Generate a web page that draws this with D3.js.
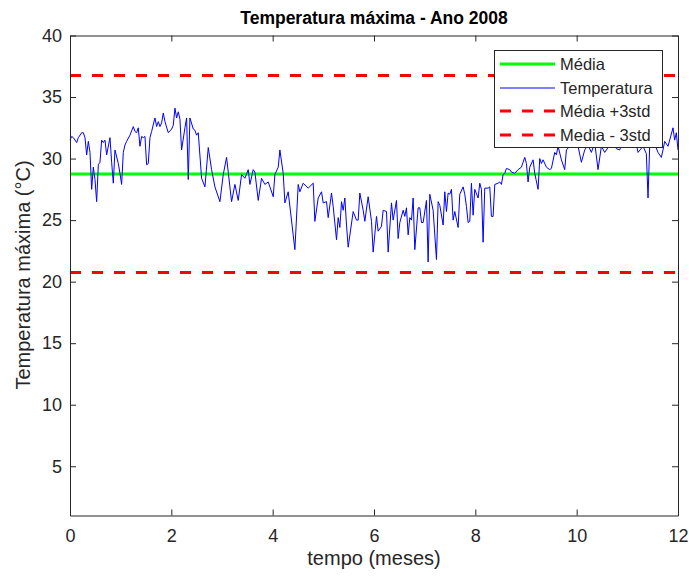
<!DOCTYPE html>
<html>
<head>
<meta charset="utf-8">
<script src="https://cdn.jsdelivr.net/npm/d3@7"></script>
<style>
    body { margin: 0; background: #fff; }
    text { font-family: "Liberation Sans", Arial, Helvetica, sans-serif; }
</style>
</head>
<body>
<div id="grafico"></div>
<script>
// dia do ano (2008) e temperatura maxima
const dias = [
    1, 2, 3, 5, 6, 8, 9, 10, 11, 12, 13, 14, 15, 16, 17, 18, 19, 20, 21, 22, 23, 25, 26, 27, 28, 30,
    31, 32, 33, 34, 35, 37, 39, 40, 41, 42, 43, 44, 45, 46, 47, 48, 49, 50, 52, 53, 54, 55, 56, 57, 58, 60,
    62, 63, 64, 65, 66, 67, 68, 70, 71, 72, 73, 75, 76, 77, 78, 80, 82, 84, 86, 88, 91, 93, 95, 96, 98, 100,
    102, 104, 106, 108, 109, 111, 112, 114, 116, 118, 120, 123, 124, 126, 127, 129, 130, 132, 136, 138, 139, 141,
    144, 147, 148, 150, 152, 153, 155, 156, 158, 159, 161, 162, 163, 164, 165, 166, 167, 168, 171, 173, 174, 175,
    177, 178, 180, 182, 183, 185, 186, 188, 189, 191, 192, 194, 195, 197, 198, 199, 201, 202, 203, 204, 205, 206,
    207, 208, 210, 211, 212, 213, 215, 216, 217, 219, 221, 222, 223, 225, 226, 227, 228, 229, 230, 231, 232, 234,
    235, 237, 238, 239, 240, 241, 242, 243, 244, 246, 247, 248, 249, 250, 252, 253, 254, 255, 256, 258, 259, 260,
    261, 262, 263, 265, 266, 268, 270, 272, 273, 274, 275, 276, 277, 279, 280, 282, 283, 284, 285, 287, 289, 290,
    292, 293, 294, 296, 298, 299, 301, 303, 306, 308, 310, 312, 314, 316, 318, 320, 322, 325, 327, 329, 331, 333,
    336, 338, 341, 342, 345, 347, 348, 349, 351, 354, 356, 357, 358, 360, 363, 364, 365, 366
];
const temperatura = [
    31.5, 31.8, 31.7, 31.3, 31.7, 32.1, 32.1, 31.7, 30.3, 31.4, 30.5, 27.5, 29.3, 28.3, 26.5, 29.5, 29.7, 31.5, 31.3, 31.5, 30.3, 31.7, 29.7, 28.0, 30.7, 29.6,
    28.8, 27.9, 30.5, 31.1, 31.4, 31.9, 32.6, 32.2, 32.1, 32.5, 31.0, 31.8, 31.7, 31.8, 29.5, 29.6, 31.7, 32.2, 33.3, 32.6, 33.0, 32.6, 32.9, 33.7, 33.0, 32.1,
    32.4, 32.7, 34.1, 33.3, 33.8, 33.2, 30.7, 32.5, 33.3, 28.3, 33.3, 32.4, 32.3, 31.9, 32.1, 28.4, 27.7, 30.9, 29.1, 27.7, 26.5, 28.7, 30.1, 28.9, 26.5, 27.9,
    26.6, 28.7, 28.4, 29.1, 27.9, 29.1, 28.9, 26.6, 28.4, 27.9, 28.1, 26.9, 28.7, 29.3, 30.7, 28.8, 26.4, 27.3, 22.6, 27.9, 27.3, 28.0,
    27.6, 28.0, 24.9, 26.8, 27.3, 26.4, 26.5, 25.2, 27.2, 26.1, 23.4, 25.2, 24.4, 26.5, 25.8, 26.8, 24.6, 22.8, 25.7, 25.0, 25.0, 27.2,
    25.8, 24.9, 26.9, 24.9, 22.4, 25.3, 24.1, 24.5, 25.8, 25.7, 22.4, 26.4, 25.0, 26.6, 23.5, 24.8, 25.8, 25.3, 26.0, 23.8, 25.2, 25.0,
    26.8, 22.6, 26.0, 26.0, 24.8, 24.8, 26.6, 21.6, 27.1, 25.8, 21.8, 26.5, 26.2, 24.6, 27.3, 25.7, 27.2, 27.1, 27.5, 25.0, 25.7, 24.4,
    27.1, 27.7, 27.1, 26.1, 24.8, 24.9, 28.0, 25.4, 27.5, 26.8, 28.0, 27.5, 23.2, 27.6, 27.6, 27.7, 25.3, 25.3, 27.9, 28.0, 28.1, 27.9,
    28.7, 28.8, 29.2, 29.1, 28.9, 28.8, 29.1, 29.3, 29.7, 30.1, 29.6, 28.1, 29.3, 29.9, 28.8, 27.5, 30.0, 29.6, 29.9, 29.3, 29.1, 29.2,
    30.5, 30.3, 31.0, 29.9, 29.1, 30.7, 31.0, 31.4, 31.0, 29.7, 30.7, 31.1, 30.5, 31.3, 29.1, 31.0, 30.5, 31.1, 31.6, 30.8, 30.7, 31.5,
    30.9, 31.6, 31.2, 30.5, 31.0, 30.4, 26.8, 31.0, 31.5, 30.5, 30.1, 30.7, 31.4, 31.0, 32.5, 31.5, 32.1, 30.7
];
const media = 28.75;
const mediaMais3std = 36.76;
const mediaMenos3std = 20.74;

const xTicks = [0, 2, 4, 6, 8, 10, 12];
const yTicks = [5, 10, 15, 20, 25, 30, 35, 40];
const legenda = ["Média", "Temperatura", "Média +3std", "Media - 3std"];

const width = 689, height = 576;
const corEixo = "#262626";

const svg = d3.select("#grafico")
    .append("svg")
    .attr("width", width)
    .attr("height", height);

const x = d3.scaleLinear().domain([0, 12]).range([70, 678]);
const y = d3.scaleLinear().domain([1, 40]).range([515.5, 35.5]);

// dia -> mes
const mes = (d) => (d - 1) * 12 / 365;

// linhas de referencia e serie
const linha = d3.line().x((d) => x(d[0])).y((d) => y(d[1]));

svg.append("path")
    .attr("d", linha([[0, media], [12, media]]))
    .attr("fill", "none")
    .attr("stroke", "#00ff00")
    .attr("stroke-width", 3);

svg.append("path")
    .attr("d", linha(dias.map((d, i) => [mes(d), temperatura[i]])))
    .attr("fill", "none")
    .attr("stroke", "#0000ff")
    .attr("stroke-width", 1)
    .attr("stroke-linejoin", "round");

[mediaMais3std, mediaMenos3std].forEach((v) => {
    svg.append("path")
        .attr("d", linha([[0, v], [12, v]]))
        .attr("fill", "none")
        .attr("stroke", "#ff0000")
        .attr("stroke-width", 3)
        .attr("stroke-dasharray", "11,11");
});

// eixos (caixa com ticks para dentro)
function estilo(g) {
    g.selectAll("path").attr("stroke", corEixo);
    g.selectAll("line").attr("stroke", corEixo);
    g.selectAll("text")
        .attr("fill", corEixo)
        .style("font-size", "18px")
        .style("font-family", '"Liberation Sans", Arial, sans-serif');
}

svg.append("g")
    .attr("transform", "translate(0,515.5)")
    .call(d3.axisBottom(x).tickValues(xTicks).tickSizeInner(-6).tickSizeOuter(0).tickPadding(14))
    .call(estilo);

svg.append("g")
    .attr("transform", "translate(0,35.5)")
    .call(d3.axisTop(x).tickValues(xTicks).tickSizeInner(-6).tickSizeOuter(0).tickFormat(""))
    .call(estilo);

svg.append("g")
    .attr("transform", "translate(70,0)")
    .call(d3.axisLeft(y).tickValues(yTicks).tickSizeInner(-6).tickSizeOuter(0).tickPadding(8))
    .call(estilo);

svg.append("g")
    .attr("transform", "translate(678,0)")
    .call(d3.axisRight(y).tickValues(yTicks).tickSizeInner(-6).tickSizeOuter(0).tickFormat(""))
    .call(estilo);

// titulo e rotulos
svg.append("text")
    .attr("x", 374)
    .attr("y", 24)
    .attr("text-anchor", "middle")
    .attr("font-size", "17.5px")
    .attr("font-weight", "bold")
    .attr("fill", "#000")
    .text("Temperatura máxima - Ano 2008");

svg.append("text")
    .attr("x", 374)
    .attr("y", 565)
    .attr("text-anchor", "middle")
    .attr("font-size", "20px")
    .attr("fill", corEixo)
    .text("tempo (meses)");

svg.append("text")
    .attr("transform", "rotate(-90)")
    .attr("x", -275)
    .attr("y", 30)
    .attr("text-anchor", "middle")
    .attr("font-size", "20px")
    .attr("fill", corEixo)
    .text("Temperatura máxima (°C)");

// legenda
const leg = svg.append("g");
leg.append("rect")
    .attr("x", 494.5)
    .attr("y", 50.5)
    .attr("width", 168)
    .attr("height", 97)
    .attr("fill", "#fff")
    .attr("stroke", corEixo)
    .attr("stroke-width", 1);

const estilos = [
    { cor: "#00ff00", w: 3, dash: null },
    { cor: "#0000ff", w: 1, dash: null },
    { cor: "#ff0000", w: 3, dash: "11,11" },
    { cor: "#ff0000", w: 3, dash: "11,11" }
];
const yLeg = [64, 88, 111, 135];

legenda.forEach((nome, i) => {
    leg.append("line")
        .attr("x1", 500).attr("x2", 555)
        .attr("y1", yLeg[i]).attr("y2", yLeg[i])
        .attr("stroke", estilos[i].cor)
        .attr("stroke-width", estilos[i].w)
        .attr("stroke-dasharray", estilos[i].dash);
    leg.append("text")
        .attr("x", 560)
        .attr("y", yLeg[i])
        .attr("dy", "0.35em")
        .attr("font-size", "16.5px")
        .attr("fill", corEixo)
        .text(nome);
});
</script>
</body>
</html>
